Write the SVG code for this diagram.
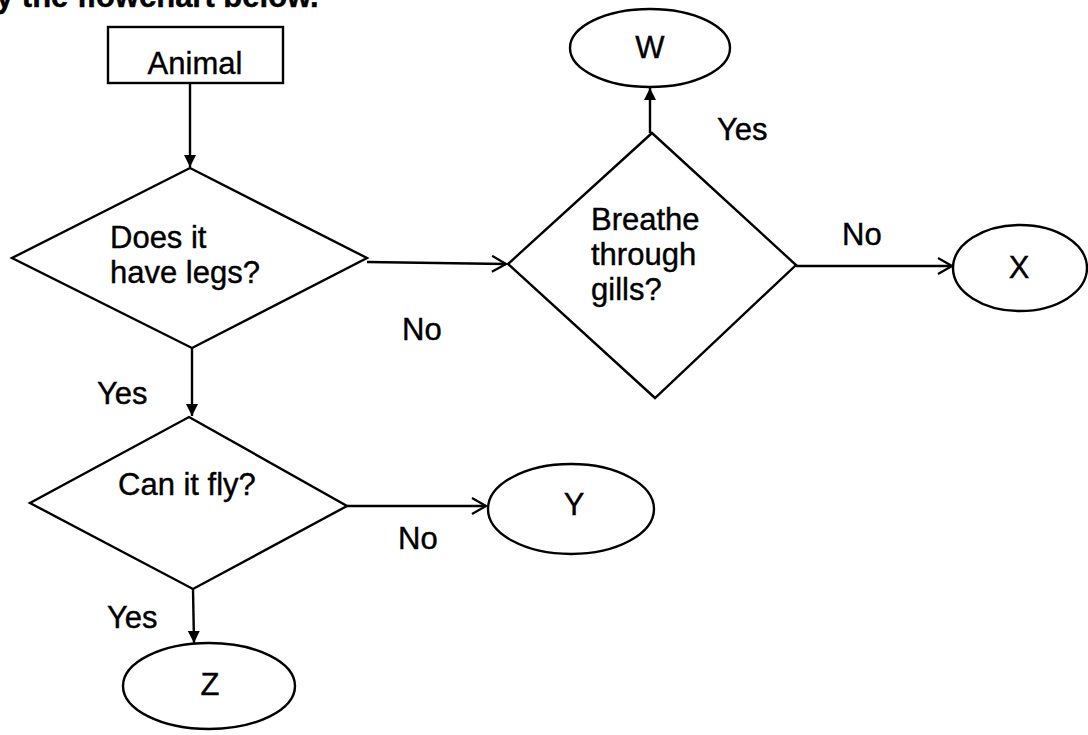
<svg xmlns="http://www.w3.org/2000/svg" width="1088" height="735" viewBox="0 0 1088 735">
<defs>
<style>
.shape{fill:none;stroke:#000;stroke-width:2.4}
.t{font-family:"Liberation Sans",Arial,sans-serif;font-size:31px;fill:#000;stroke:#000;stroke-width:0.4}
.c{text-anchor:middle}
.line{fill:none;stroke:#000;stroke-width:2.4}
</style>
<marker id="solid" viewBox="0 0 12 16" refX="12" refY="8" markerWidth="12" markerHeight="16" markerUnits="userSpaceOnUse" orient="auto">
<path d="M0,2 L12,8 L0,14 Z" fill="#000"/>
</marker>
<marker id="open" viewBox="0 0 16 18" refX="15" refY="9" markerWidth="16" markerHeight="18" markerUnits="userSpaceOnUse" orient="auto">
<path d="M1,1 L15,9 L1,17" fill="none" stroke="#000" stroke-width="2.2"/>
</marker>
</defs>
<rect width="1088" height="735" fill="#fff"/>
<text class="t" x="-4" y="7" font-weight="bold">y the flowchart below.</text>

<g id="node-animal">
<rect class="shape" x="108" y="27" width="175" height="56"/>
<text class="t c" x="195" y="74">Animal</text>
</g>
<g id="node-legs">
<polygon class="shape" points="190,168 367,258 192,348 12,258"/>
<text class="t" x="110" y="248">Does it</text>
<text class="t" x="110" y="283">have legs?</text>
</g>
<g id="node-gills">
<polygon class="shape" points="652,133 796,265 655,398 508,264"/>
<text class="t" x="591" y="230">Breathe</text>
<text class="t" x="591" y="265">through</text>
<text class="t" x="591" y="300">gills?</text>
</g>
<g id="node-fly">
<polygon class="shape" points="189,417 347,506 193,589 30,503"/>
<text class="t" x="118" y="495">Can it fly?</text>
</g>
<g id="node-w">
<ellipse class="shape" cx="650" cy="48" rx="80" ry="39"/>
<text class="t c" x="650" y="58">W</text>
</g>
<g id="node-x">
<ellipse class="shape" cx="1020" cy="268" rx="67" ry="43"/>
<text class="t c" x="1019" y="278">X</text>
</g>
<g id="node-y">
<ellipse class="shape" cx="571" cy="509" rx="83" ry="45"/>
<text class="t c" x="574" y="515">Y</text>
</g>
<g id="node-z">
<ellipse class="shape" cx="209" cy="686" rx="86" ry="43"/>
<text class="t c" x="210" y="695">Z</text>
</g>

<g id="connectors">
<line class="line" x1="190" y1="83" x2="190" y2="167" marker-end="url(#solid)"/>
<line class="line" x1="367" y1="262" x2="506" y2="264" marker-end="url(#open)"/>
<line class="line" x1="650" y1="133" x2="650" y2="88" marker-end="url(#solid)"/>
<line class="line" x1="796" y1="266" x2="952" y2="266" marker-end="url(#open)"/>
<line class="line" x1="192" y1="348" x2="192" y2="416" marker-end="url(#solid)"/>
<line class="line" x1="347" y1="506" x2="486" y2="506" marker-end="url(#open)"/>
<line class="line" x1="193" y1="589" x2="194" y2="643" marker-end="url(#solid)"/>
<text class="t" x="402" y="340">No</text>
<text class="t" x="717" y="140">Yes</text>
<text class="t" x="842" y="245">No</text>
<text class="t" x="97" y="404">Yes</text>
<text class="t" x="398" y="549">No</text>
<text class="t" x="107" y="628">Yes</text>
</g>
</svg>
